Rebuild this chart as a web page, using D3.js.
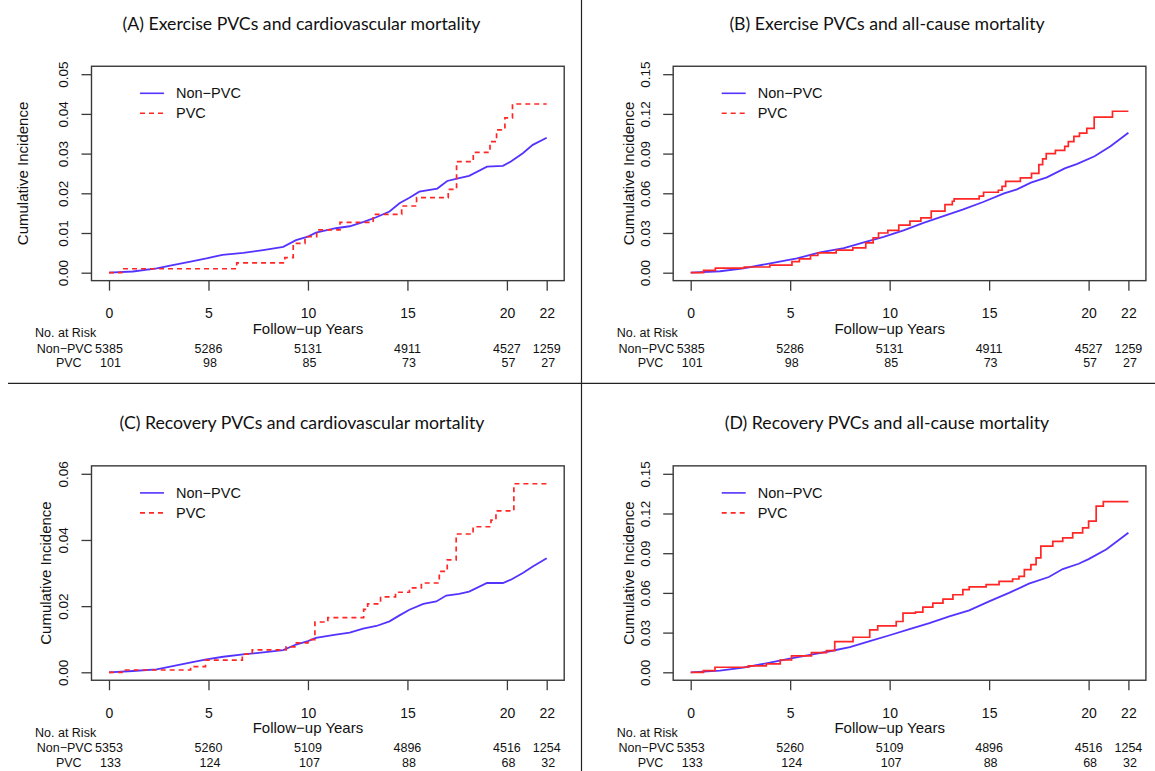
<!DOCTYPE html>
<html><head><meta charset="utf-8">
<script src="https://cdn.jsdelivr.net/npm/d3@7"></script>
<style>body{margin:0;background:#fff} svg{display:block}</style>
</head><body><svg id="c" width="1155" height="771"></svg>
<script>
// ---------------- DATA ----------------
const titles = [
  "(A) Exercise PVCs and cardiovascular mortality",
  "(B) Exercise PVCs and all-cause mortality",
  "(C) Recovery PVCs and cardiovascular mortality",
  "(D) Recovery PVCs and all-cause mortality"
];
const seriesNames = ["Non\u2212PVC", "PVC"];
const xTicks = [0, 5, 10, 15, 20, 22];
const yTicksA = [0, 0.01, 0.02, 0.03, 0.04, 0.05];
const yTicksB = [0, 0.03, 0.06, 0.09, 0.12, 0.15];
const yTicksC = [0, 0.02, 0.04, 0.06];
const yTicksD = [0, 0.03, 0.06, 0.09, 0.12, 0.15];

// Panel A
const aNonT = [0,1.2,2.4,3.2,4.1,4.9,5.7,6.75,7.75,8.76,9.4,10.0,10.4,11.4,12.1,12.8,13.4,14.1,14.6,15.1,15.6,16.5,17.0,17.6,18.1,19.0,19.8,20.2,20.8,21.3,22];
const aNonV = [0,0.0003,0.0011,0.0019,0.0028,0.0036,0.0045,0.005,0.0057,0.0065,0.0082,0.0091,0.0101,0.0112,0.0117,0.0128,0.0139,0.0154,0.0175,0.0189,0.0204,0.0212,0.0231,0.0238,0.0244,0.0267,0.0269,0.028,0.0301,0.0322,0.034];
const aPvcT = [0,0.64,6.42,8.84,9.26,9.85,10.44,11.61,13.28,14.71,15.46,17.05,17.47,18.31,19.15,19.48,19.9,20.28,22];
const aPvcV = [0,0.001,0.0025,0.0038,0.0074,0.0091,0.0108,0.0127,0.0147,0.0168,0.0189,0.021,0.028,0.0303,0.033,0.036,0.039,0.0425,0.0425];
// Panel B
const bNonT = [0,1.48,2.65,4.0,5.34,6.5,7.7,8.7,9.7,10.7,11.7,12.7,13.7,14.7,15.75,16.4,17.1,17.9,18.8,19.4,20.3,21.1,22];
const bNonV = [0,0.0011,0.0033,0.0071,0.0109,0.0153,0.0186,0.0229,0.027,0.032,0.0376,0.0427,0.0478,0.0534,0.06,0.063,0.0681,0.072,0.0788,0.0821,0.088,0.0956,0.1058];
const bPvcT = [0,0.65,1.24,2.69,3.98,5.09,5.46,6.02,6.39,7.31,8.15,8.8,9.17,9.44,9.91,10.46,11.02,11.57,12.09,12.78,13.15,13.24,14.5,14.72,15.46,15.65,15.83,16.57,17.13,17.5,17.69,17.87,18.33,18.8,18.98,19.26,19.54,19.91,20.28,21.2,22];
const bPvcV = [0,0.0018,0.0035,0.0043,0.0058,0.0083,0.0105,0.013,0.015,0.017,0.0188,0.0226,0.0264,0.030,0.032,0.036,0.039,0.0415,0.0465,0.0515,0.054,0.0558,0.0578,0.0608,0.0623,0.0653,0.069,0.0716,0.075,0.0817,0.086,0.09,0.0925,0.0955,0.099,0.103,0.1055,0.109,0.1175,0.122,0.122];
// Panel C
const cNonT = [0,1.2,2.4,3.2,4.07,4.9,5.74,6.74,7.75,8.75,9.4,10.0,10.4,11.4,12.1,12.77,13.44,14.1,14.6,15.1,15.8,16.45,16.95,17.6,18.1,19.0,19.8,20.2,20.8,21.3,22];
const cNonV = [0,0.0004,0.0009,0.0019,0.0029,0.0039,0.0047,0.0054,0.006,0.0067,0.0084,0.0094,0.0104,0.0114,0.012,0.0132,0.014,0.0154,0.0172,0.0189,0.0207,0.0214,0.0232,0.0237,0.0244,0.027,0.027,0.028,0.030,0.032,0.0345];
const cPvcT = [0,0.65,4.1,4.85,6.7,7.2,8.9,9.34,10.0,10.35,11.0,12.8,13.0,13.65,14.4,15.1,15.7,16.6,17.0,17.45,18.3,19.2,19.45,20.35,22];
const cPvcV = [0,0.0007,0.0017,0.0037,0.0055,0.0068,0.0077,0.0089,0.0099,0.0152,0.0165,0.019,0.0207,0.0228,0.0242,0.0255,0.027,0.0305,0.034,0.0418,0.044,0.046,0.0488,0.057,0.057];
// Panel D
const dNonT = [0,1.47,2.64,3.98,4.98,5.99,6.99,8.0,9.0,10.0,11.0,12.0,13.0,14.0,15.0,16.0,17.0,18.0,18.7,19.5,20.0,20.9,22];
const dNonV = [0,0.0013,0.0036,0.0073,0.0104,0.0131,0.0159,0.019,0.0235,0.028,0.0326,0.0371,0.0422,0.0468,0.0536,0.06,0.067,0.072,0.078,0.082,0.0855,0.093,0.1055];
const dPvcT = [0,0.64,1.22,2.9,3.8,4.5,5.07,6.07,6.82,7.24,8.16,9.0,9.4,10.33,10.67,11.3,11.67,12.17,12.68,13.18,13.68,14.0,14.85,15.5,16.18,16.5,16.77,17.1,17.36,17.6,18.2,18.7,19.2,19.7,20.0,20.38,20.74,22];
const dPvcV = [0,0.0013,0.0038,0.0048,0.0063,0.0093,0.0124,0.0149,0.0164,0.0232,0.0265,0.0321,0.0351,0.0384,0.0447,0.0455,0.0493,0.0523,0.0553,0.0586,0.0624,0.0645,0.0662,0.0687,0.0705,0.0725,0.0776,0.0814,0.0864,0.0953,0.099,0.1016,0.1054,0.1092,0.1142,0.1255,0.129,0.129];

// Numbers at risk
const riskTimes = [0, 5, 10, 15, 20, 22];
const exNonRisk = [5385, 5286, 5131, 4911, 4527, 1259];
const exPvcRisk = [101, 98, 85, 73, 57, 27];
const recNonRisk = [5353, 5260, 5109, 4896, 4516, 1254];
const recPvcRisk = [133, 124, 107, 88, 68, 32];

// ---------------- DRAW ----------------
const svg = d3.select('#c');
const BLUE = '#5533ff', RED = '#ff2626', BOX = '#3a3a3a';
const SANS = '"Liberation Sans", Arial, Helvetica, sans-serif';
const TITLEF = 'Lato, "Open Sans", sans-serif';

const panels = [
  {title: titles[0], dx: 0,     dy: 0,     ymax: 0.05, yt: yTicksA, nT: aNonT, nV: aNonV, pT: aPvcT, pV: aPvcV, dashed: true,  risk: [exNonRisk, exPvcRisk],  ytx: 69, ttx: 301.5},
  {title: titles[1], dx: 581.7, dy: 0,     ymax: 0.15, yt: yTicksB, nT: bNonT, nV: bNonV, pT: bPvcT, pV: bPvcV, dashed: false, risk: [exNonRisk, exPvcRisk],  ytx: 45, ttx: 887},
  {title: titles[2], dx: 0,     dy: 399.6, ymax: 0.06, yt: yTicksC, nT: cNonT, nV: cNonV, pT: cPvcT, pV: cPvcV, dashed: true,  risk: [recNonRisk, recPvcRisk], ytx: 46, ttx: 302},
  {title: titles[3], dx: 581.7, dy: 399.6, ymax: 0.15, yt: yTicksD, nT: dNonT, nV: dNonV, pT: dPvcT, pV: dPvcV, dashed: false, risk: [recNonRisk, recPvcRisk], ytx: 45, ttx: 887}
];

panels.forEach(p => {
  const g = svg.append('g');
  const x = d3.scaleLinear().domain([0, 22]).range([109 + p.dx, 546.7 + p.dx]);
  const y = d3.scaleLinear().domain([0, p.ymax]).range([272.7 + p.dy, 74.2 + p.dy]);
  const bx0 = x(-0.88), bx1 = x(22.88), by0 = y(-0.04 * p.ymax), by1 = y(1.04 * p.ymax);

  // title
  g.append('text').attr('x', p.ttx).attr('y', 23 + p.dy).attr('text-anchor', 'middle')
    .attr('dominant-baseline', 'central').attr('font-family', TITLEF).attr('font-size', 17.7)
    .attr('fill', '#111').text(p.title);

  // box
  g.append('rect').attr('x', bx0).attr('y', by1).attr('width', bx1 - bx0).attr('height', by0 - by1)
    .attr('fill', 'none').attr('stroke', BOX).attr('stroke-width', 1.4);

  // y axis
  const ya = g.append('g').attr('transform', `translate(${bx0},0)`)
    .call(d3.axisLeft(y).tickValues(p.yt).tickSize(10).tickFormat(d3.format('.2f')));
  ya.select('.domain').remove();
  ya.selectAll('line').attr('stroke', BOX).attr('stroke-width', 1.3);
  ya.selectAll('text').attr('x', null).attr('dy', null)
    .attr('transform', 'translate(-28,0) rotate(-90)').attr('text-anchor', 'middle')
    .attr('dominant-baseline', 'central').attr('font-family', SANS).attr('font-size', 13.5).attr('fill', '#111');

  // x axis
  const xa = g.append('g').attr('transform', `translate(0,${by0})`)
    .call(d3.axisBottom(x).tickValues(xTicks).tickSize(10).tickFormat(d3.format('d')));
  xa.select('.domain').remove();
  xa.selectAll('line').attr('stroke', BOX).attr('stroke-width', 1.3);
  xa.selectAll('text').attr('y', 313 + p.dy - by0).attr('dy', null).attr('dominant-baseline', 'central')
    .attr('font-family', SANS).attr('font-size', 14).attr('fill', '#111');

  // axis titles
  g.append('text').attr('transform', `translate(${bx0 - p.ytx},${(by0 + by1) / 2}) rotate(-90)`)
    .attr('text-anchor', 'middle').attr('dominant-baseline', 'central')
    .attr('font-family', SANS).attr('font-size', 15).attr('fill', '#111').text('Cumulative Incidence');
  g.append('text').attr('x', x(10)).attr('y', 328 + p.dy).attr('text-anchor', 'middle')
    .attr('dominant-baseline', 'central').attr('font-family', SANS).attr('font-size', 15)
    .attr('fill', '#111').text('Follow\u2212up Years');

  // curves
  const line = d3.line().x(d => x(d[0])).y(d => y(d[1]));
  const stepLine = d3.line().x(d => x(d[0])).y(d => y(d[1])).curve(d3.curveStepAfter);
  g.append('path').datum(p.nT.map((t, i) => [t, p.nV[i]])).attr('d', line)
    .attr('fill', 'none').attr('stroke', BLUE).attr('stroke-width', 1.8);
  g.append('path').datum(p.pT.map((t, i) => [t, p.pV[i]])).attr('d', stepLine)
    .attr('fill', 'none').attr('stroke', RED).attr('stroke-width', 1.7)
    .attr('stroke-dasharray', p.dashed ? '5,4' : null);

  // legend
  const lg = [[seriesNames[0], BLUE, null], [seriesNames[1], RED, '5,4']];
  lg.forEach((d, i) => {
    const ly = 93.3 + p.dy + i * 20;
    g.append('line').attr('x1', 140 + p.dx).attr('x2', 164 + p.dx).attr('y1', ly).attr('y2', ly)
      .attr('stroke', d[1]).attr('stroke-width', 1.6).attr('stroke-dasharray', d[2]);
    g.append('text').attr('x', 176 + p.dx).attr('y', ly).attr('dominant-baseline', 'central')
      .attr('font-family', SANS).attr('font-size', 14.5).attr('fill', '#111').text(d[0]);
  });

  // numbers at risk
  g.append('text').attr('x', 35 + p.dx).attr('y', 333.3 + p.dy).attr('dominant-baseline', 'central')
    .attr('font-family', SANS).attr('font-size', 12.5).attr('fill', '#111').text('No. at Risk');
  [[seriesNames[0], p.risk[0], 348.5, 64.7, 0], [seriesNames[1], p.risk[1], 363, 68.8, 1.5]].forEach(r => {
    g.append('text').attr('x', r[3] + p.dx).attr('y', r[2] + p.dy).attr('text-anchor', 'middle')
      .attr('dominant-baseline', 'central').attr('font-family', SANS).attr('font-size', 12.5)
      .attr('fill', '#111').text(r[0]);
    g.selectAll(null).data(r[1]).enter().append('text')
      .attr('x', (d, i) => x(riskTimes[i]) + r[4]).attr('y', r[2] + p.dy).attr('text-anchor', 'middle')
      .attr('dominant-baseline', 'central').attr('font-family', SANS).attr('font-size', 12.5)
      .attr('fill', '#111').text(d => d);
  });
});

// dividers
svg.append('line').attr('x1', 8).attr('x2', 1155).attr('y1', 383.3).attr('y2', 383.3)
  .attr('stroke', '#222').attr('stroke-width', 1.2);
svg.append('line').attr('x1', 581.5).attr('x2', 581.5).attr('y1', 0).attr('y2', 771)
  .attr('stroke', '#222').attr('stroke-width', 1.2);
</script></body></html>
